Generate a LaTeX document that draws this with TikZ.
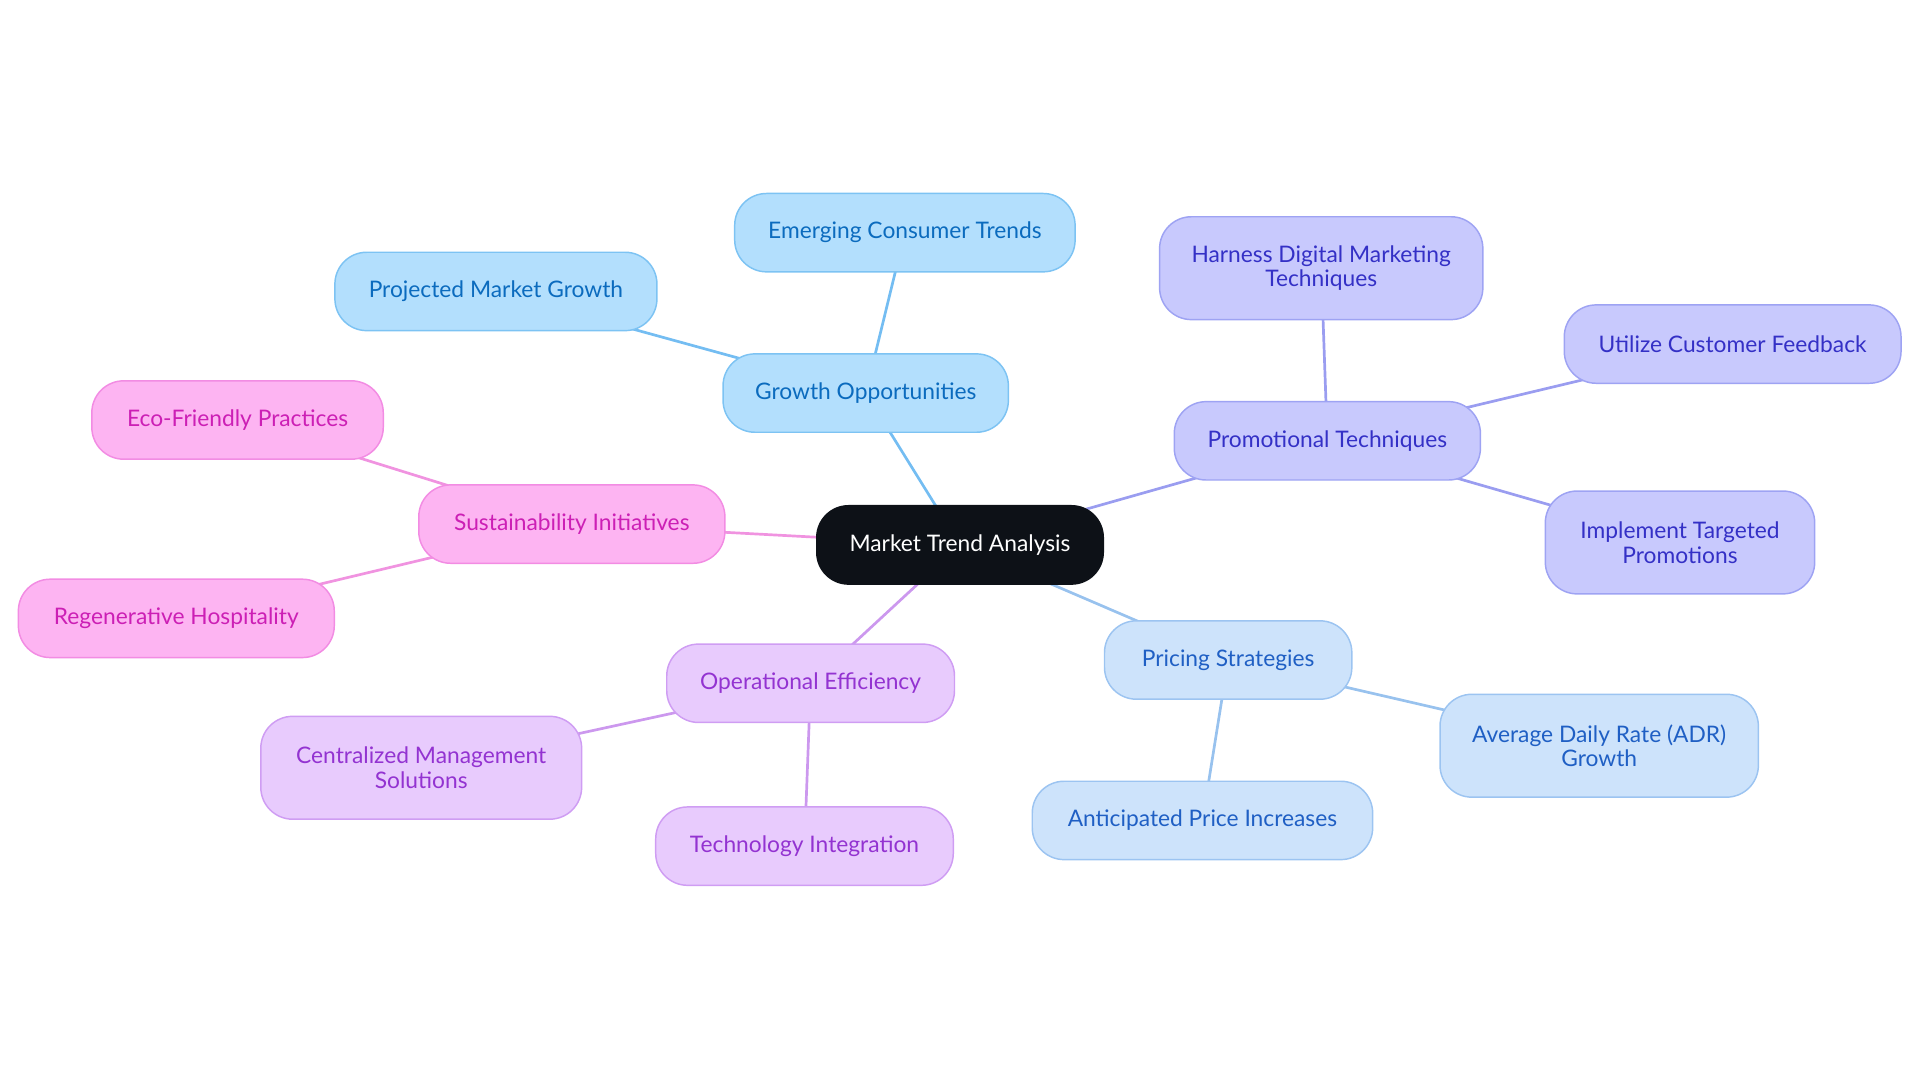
\documentclass[tikz,border=0pt]{standalone}
\usepackage{fontspec}
\setmainfont{Lato}
\usetikzlibrary{backgrounds}

\definecolor{rootfill}{HTML}{0D1117}
\definecolor{gofill}{HTML}{B3DFFD}
\definecolor{godraw}{HTML}{7DC3F3}
\definecolor{gotext}{HTML}{0B6BBE}
\definecolor{goline}{HTML}{74BDF2}
\definecolor{ptfill}{HTML}{C8C9FD}
\definecolor{ptdraw}{HTML}{9EA3F3}
\definecolor{pttext}{HTML}{3430C6}
\definecolor{ptline}{HTML}{9A9DF0}
\definecolor{psfill}{HTML}{CDE3FB}
\definecolor{psdraw}{HTML}{9CC4F1}
\definecolor{pstext}{HTML}{1F5FC4}
\definecolor{psline}{HTML}{98C2EE}
\definecolor{oefill}{HTML}{E8CBFD}
\definecolor{oedraw}{HTML}{CF9DF3}
\definecolor{oetext}{HTML}{9333D1}
\definecolor{oeline}{HTML}{CC98EE}
\definecolor{sifill}{HTML}{FDB4F2}
\definecolor{sidraw}{HTML}{F28CE3}
\definecolor{sitext}{HTML}{CC1FB5}
\definecolor{siline}{HTML}{F093E0}

\begin{document}
\begin{tikzpicture}[x=1pt,y=-1pt,
  box/.style={rounded corners=26pt, minimum height=64pt, inner sep=0pt,
    line width=1.2pt, align=center, font=\fontsize{18.6}{20}\selectfont},
  tall/.style={minimum height=84pt},
  rootbox/.style={box, fill=rootfill, draw=rootfill, text=white},
  gobox/.style={box, fill=gofill, draw=godraw, text=gotext},
  ptbox/.style={box, fill=ptfill, draw=ptdraw, text=pttext},
  psbox/.style={box, fill=psfill, draw=psdraw, text=pstext},
  oebox/.style={box, fill=oefill, draw=oedraw, text=oetext},
  sibox/.style={box, fill=sifill, draw=sidraw, text=sitext},
  link/.style={line width=2.2pt}]
\useasboundingbox (0,0) rectangle (1568,884.4);

\node[rootbox, minimum width=234pt] (root) at (784,445) {Market Trend Analysis};

\node[gobox, minimum width=233pt] (go) at (707,321) {Growth Opportunities};
\node[gobox, minimum width=278pt] (ect) at (739,190) {Emerging Consumer Trends};
\node[gobox, minimum width=263pt] (pmg) at (405,238) {Projected Market Growth};

\node[ptbox, minimum width=250pt] (pt) at (1084,360) {Promotional Techniques};
\node[ptbox, tall, minimum width=264pt] (hdm) at (1079,219) {Harness Digital Marketing\\Techniques};
\node[ptbox, minimum width=275pt] (ucf) at (1415,281) {Utilize Customer Feedback};
\node[ptbox, tall, minimum width=220pt] (itp) at (1372,443) {Implement Targeted\\Promotions};

\node[psbox, minimum width=202pt] (ps) at (1003,539) {Pricing Strategies};
\node[psbox, tall, minimum width=260pt] (adr) at (1306,609) {Average Daily Rate (ADR)\\Growth};
\node[psbox, minimum width=278pt] (api) at (982,670) {Anticipated Price Increases};

\node[oebox, minimum width=235pt] (oe) at (662,558) {Operational Efficiency};
\node[oebox, tall, minimum width=262pt] (cms) at (344,627) {Centralized Management\\Solutions};
\node[oebox, minimum width=243pt] (ti) at (657,691) {Technology Integration};

\node[sibox, minimum width=250pt] (si) at (467,428) {Sustainability Initiatives};
\node[sibox, minimum width=238pt] (efp) at (194,343) {Eco-Friendly Practices};
\node[sibox, minimum width=258pt] (rh) at (144,505) {Regenerative Hospitality};

\begin{scope}[on background layer]
\draw[link, goline] (root.center) -- (go.center);
\draw[link, goline] (go.center) -- (ect.center);
\draw[link, goline] (go.center) -- (pmg.center);
\draw[link, ptline] (root.center) -- (pt.center);
\draw[link, ptline] (pt.center) -- (hdm.center);
\draw[link, ptline] (pt.center) -- (ucf.center);
\draw[link, ptline] (pt.center) -- (itp.center);
\draw[link, psline] (root.center) -- (ps.center);
\draw[link, psline] (ps.center) -- (adr.center);
\draw[link, psline] (ps.center) -- (api.center);
\draw[link, oeline] (root.center) -- (oe.center);
\draw[link, oeline] (oe.center) -- (cms.center);
\draw[link, oeline] (oe.center) -- (ti.center);
\draw[link, siline] (root.center) -- (si.center);
\draw[link, siline] (si.center) -- (efp.center);
\draw[link, siline] (si.center) -- (rh.center);
\end{scope}
\end{tikzpicture}
\end{document}
